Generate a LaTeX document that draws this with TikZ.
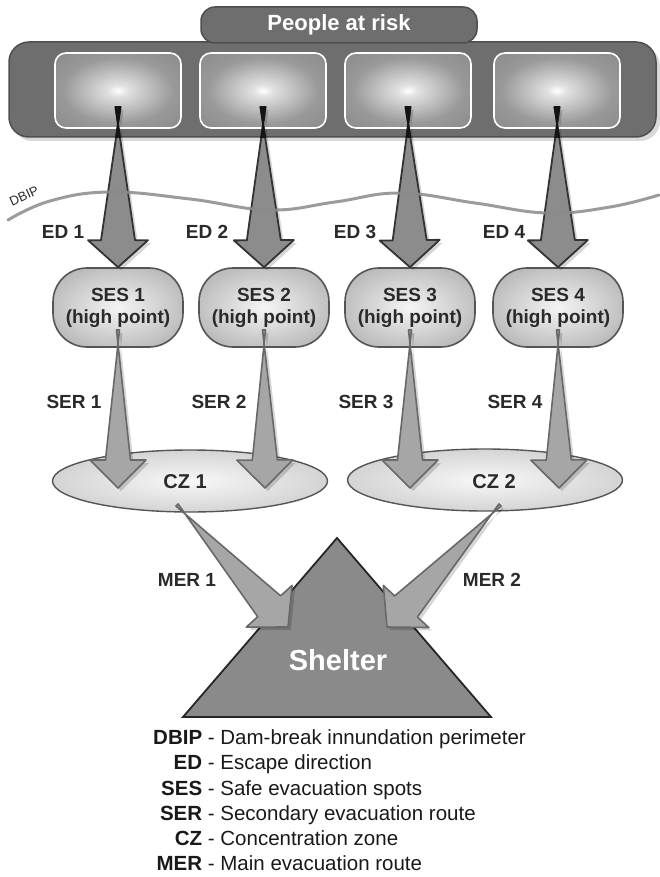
\documentclass[tikz,border=0pt]{standalone}
\usepackage{fontspec}
\setmainfont{Liberation Sans}
\usetikzlibrary{calc,shapes.geometric}
\definecolor{barfill}{HTML}{6E6E6E}
\definecolor{barline}{HTML}{4E4E4E}
\definecolor{labc}{HTML}{2A2A2A}
\definecolor{edfill}{HTML}{8C8C8C}
\definecolor{edline}{HTML}{333333}
\definecolor{serfill}{HTML}{A6A6A6}
\definecolor{serline}{HTML}{686868}
\definecolor{sesline}{HTML}{555555}
\definecolor{wavec}{HTML}{8A8A8A}
\definecolor{shelfill}{HTML}{8A8A8A}
\pgfdeclareradialshading{spot}{\pgfpoint{0bp}{0bp}}{color(0bp)=(white); color(4bp)=(white!88!black); color(22bp)=(white!60!black); color(50bp)=(white!48!black); color(80bp)=(white!46!black)}
\pgfdeclareradialshading{sesshade}{\pgfpoint{0bp}{0bp}}{color(0bp)=(white!96!black); color(12bp)=(white!86!black); color(32bp)=(white!70!black); color(50bp)=(white!62!black); color(80bp)=(white!60!black)}
\pgfdeclareradialshading{czshade}{\pgfpoint{0bp}{0bp}}{color(0bp)=(white!97!black); color(20bp)=(white!86!black); color(40bp)=(white!74!black); color(50bp)=(white!68!black); color(80bp)=(white!66!black)}
% #1 start, #2 tip, #3 shaft half width at head, #4 head half width, #5 head length, #6 start half width
\newcommand\tapercoords[6]{%
  \coordinate (tt) at (#2);
  \coordinate (tb) at ($(#2)!#5!(#1)$);
  \coordinate (ta) at ($(tb)!#3!90:(#2)$);
  \coordinate (tc) at ($(tb)!#4!90:(#2)$);
  \coordinate (td) at ($(tb)!#4!-90:(#2)$);
  \coordinate (te) at ($(tb)!#3!-90:(#2)$);
  \coordinate (sa) at ($(#1)!#6!-90:(#2)$);
  \coordinate (sb) at ($(#1)!#6!90:(#2)$);
}
\newcommand\taper[7]{%
  \tapercoords{#1}{#2}{#3}{#4}{#5}{#6}
  \fill[black,opacity=.16,transform canvas={shift={(3pt,-3pt)}}] (sa) -- (ta) -- (tc) -- (tt) -- (td) -- (te) -- (sb) -- cycle;
  \draw[#7] (sa) -- (ta) -- (tc) -- (tt) -- (td) -- (te) -- (sb) -- cycle;
}
\tikzset{
  lbl/.style={font=\fontsize{19}{22}\selectfont\bfseries, text=labc, inner sep=0pt},
  inbox/.style={draw=white, line width=1.6pt, rounded corners=11pt, minimum width=126pt, minimum height=75pt, inner sep=0pt, shade, shading=spot},
  sesbox/.style={draw=sesline, line width=1.6pt, rounded corners=34pt, minimum width=130pt, minimum height=79pt, inner sep=0pt, shade, shading=sesshade, align=center, font=\fontsize{19}{22}\selectfont\bfseries, text=labc},
  czbox/.style={ellipse, draw=sesline, line width=1.4pt, minimum width=275pt, minimum height=62pt, inner sep=0pt, shade, shading=czshade},
  edarrow/.style={draw=edline, fill=edfill, line width=1.8pt},
  serarrow/.style={draw=serline, fill=serfill, line width=1.6pt},
  merarrow/.style={draw=serline, fill=serfill, line width=1.6pt},
  leg/.style={font=\fontsize{20.5}{24}\selectfont, text=black!90, inner sep=0pt, anchor=base west}
}
\begin{document}
\begin{tikzpicture}[x=1pt,y=-1pt,line join=round]
\useasboundingbox (0,0) rectangle (660,877);
% bar and header
\fill[black,opacity=.15,rounded corners=20pt] (12,46) rectangle (660,141);
\node[draw=barline, line width=1.5pt, fill=barfill, rounded corners=20pt, minimum width=647pt, minimum height=95pt, inner sep=0pt] (bar) at (332.5,89.5) {};
\node[draw=barline, line width=1.5pt, fill=barfill, rounded corners=14pt, minimum width=276pt, minimum height=36pt, inner sep=0pt, text=white, font=\fontsize{22}{24}\selectfont\bfseries] (hdr) at (339,25) {People at risk};
% inner boxes
\node[inbox] (p1) at (118,90.5) {};
\node[inbox] (p2) at (263,90.5) {};
\node[inbox] (p3) at (408,90.5) {};
\node[inbox] (p4) at (557,90.5) {};
% SES nodes
\node[sesbox] (s1) at (118,307.5) {SES 1\\(high point)};
\node[sesbox] (s2) at (264,307.5) {SES 2\\(high point)};
\node[sesbox] (s3) at (410,307.5) {SES 3\\(high point)};
\node[sesbox] (s4) at (558,307.5) {SES 4\\(high point)};
% ED arrows
\coordinate (e1) at (118,107); \coordinate (e2) at (263,107);
\coordinate (e3) at (408,107); \coordinate (e4) at (557,107);
\taper{e1}{s1.north}{17pt}{30pt}{27pt}{2.5pt}{edarrow}
\taper{e2}{s2.north}{17pt}{30pt}{27pt}{2.5pt}{edarrow}
\taper{e3}{s3.north}{17pt}{30pt}{27pt}{2.5pt}{edarrow}
\taper{e4}{s4.north}{17pt}{30pt}{27pt}{2.5pt}{edarrow}
\begin{scope}
\clip (0,100) rectangle (660,137.5);
\foreach \e/\s in {e1/s1,e2/s2,e3/s3,e4/s4}{
  \tapercoords{\e}{\s.north}{17pt}{30pt}{27pt}{2.5pt}
  \draw[fill=black!92, draw=black!92, line width=1.8pt] (sa) -- (ta) -- (tc) -- (tt) -- (td) -- (te) -- (sb) -- cycle;
}
\end{scope}
% DBIP wave
\draw[wavec, line width=3pt, opacity=.85, line cap=round] plot[smooth, tension=.7] coordinates {(8,220) (50,201) (110,192) (190,199) (269,210) (335,202) (400,193) (475,203) (547,213) (610,207) (659,195)};
\node[font=\fontsize{13}{14}\selectfont, text=labc, rotate=25, inner sep=0pt] (dbip) at (24,196) {DBIP};
% CZ ellipses
\node[czbox] (cz1) at (190,481) {};
\node[czbox] (cz2) at (485,480) {};
\node[font=\fontsize{20}{22}\selectfont\bfseries, text=labc, inner sep=0pt] (cz1t) at (185,482) {CZ 1};
\node[font=\fontsize{20}{22}\selectfont\bfseries, text=labc, inner sep=0pt] (cz2t) at (494,482) {CZ 2};
% SER arrows
\coordinate (r1s) at (118,330); \coordinate (r1t) at (118,488);
\coordinate (r2s) at (264,330); \coordinate (r2t) at (265,488);
\coordinate (r3s) at (410,330); \coordinate (r3t) at (410,488);
\coordinate (r4s) at (558,330); \coordinate (r4t) at (559,488);
\taper{r1s}{r1t}{12.5pt}{28pt}{28pt}{1.5pt}{serarrow}
\taper{r2s}{r2t}{12.5pt}{28pt}{28pt}{1.5pt}{serarrow}
\taper{r3s}{r3t}{12.5pt}{28pt}{28pt}{1.5pt}{serarrow}
\taper{r4s}{r4t}{12.5pt}{28pt}{28pt}{1.5pt}{serarrow}
% shelter
\draw[fill=shelfill, draw=black!85, line width=1.8pt, line join=miter] (337,538) -- (491,717) -- (183,717) -- cycle;
\node[font=\fontsize{29}{30}\selectfont\bfseries, text=white, inner sep=0pt] (shelter) at (338,660) {Shelter};
% MER arrows
\coordinate (m1s) at (177,505); \coordinate (m1t) at (288,627);
\coordinate (m2s) at (500,505); \coordinate (m2t) at (387,627);
\taper{m1s}{m1t}{15.5pt}{31pt}{28pt}{1.5pt}{merarrow}
\taper{m2s}{m2t}{15.5pt}{31pt}{28pt}{1.5pt}{merarrow}
% labels
\node[lbl] (ed1) at (63,232) {ED 1};
\node[lbl] (ed2) at (207,232) {ED 2};
\node[lbl] (ed3) at (355,232) {ED 3};
\node[lbl] (ed4) at (504,232) {ED 4};
\node[lbl] (ser1) at (74,402) {SER 1};
\node[lbl] (ser2) at (219,402) {SER 2};
\node[lbl] (ser3) at (366,402) {SER 3};
\node[lbl] (ser4) at (515,402) {SER 4};
\node[lbl] (mer1) at (187,580) {MER 1};
\node[lbl] (mer2) at (492,580) {MER 2};
% legend
\node[leg] (l1) at (202,744) {\llap{\bfseries DBIP} - Dam-break innundation perimeter};
\node[leg] (l2) at (202,769) {\llap{\bfseries ED} - Escape direction};
\node[leg] (l3) at (202,795) {\llap{\bfseries SES} - Safe evacuation spots};
\node[leg] (l4) at (202,820) {\llap{\bfseries SER} - Secondary evacuation route};
\node[leg] (l5) at (202,845) {\llap{\bfseries CZ} - Concentration zone};
\node[leg] (l6) at (202,870) {\llap{\bfseries MER} - Main evacuation route};
\end{tikzpicture}
\end{document}
